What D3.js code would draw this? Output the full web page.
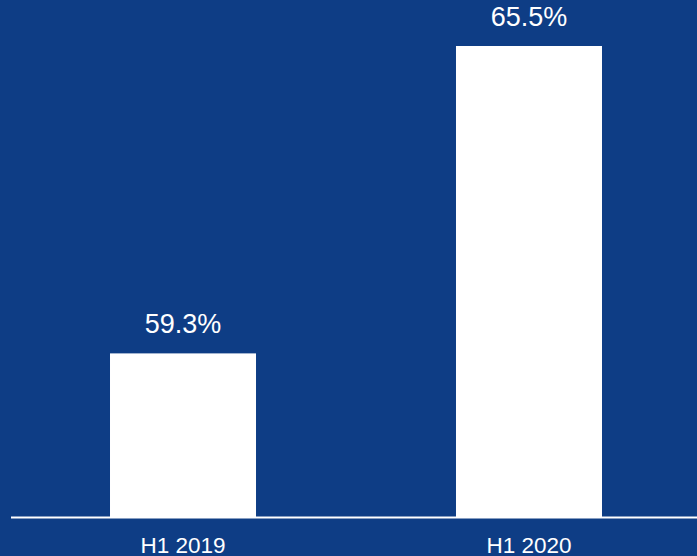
<!DOCTYPE html>
<html>
<head>
<meta charset="utf-8">
<script src="https://cdn.jsdelivr.net/npm/d3@7"></script>
<style>
  html, body { margin: 0; padding: 0; background: #0e3d85; }
  svg { display: block; font-family: "Liberation Sans", Arial, sans-serif; }
</style>
</head>
<body>
<div class="container"></div>
<script>
const w = 697;
const h = 556;

const categories = ['H1 2019', 'H1 2020'];
const values = [59.3, 65.5];
const valueLabels = ['59.3%', '65.5%'];

const baseY = 517;

// x band scale
const xScale = d3.scaleBand()
  .domain(categories)
  .range([15, w])
  .paddingInner(0.578)
  .paddingOuter(0.2746);

// y scale (not zero based)
const yScale = d3.scaleLinear()
  .domain([56, 65.5])
  .range([baseY, 46]);

const svg = d3.select('.container')
  .append('svg')
  .attr('width', w)
  .attr('height', h);

svg.append('rect')
  .attr('width', w)
  .attr('height', h)
  .attr('fill', '#0e3d85');

// bars
svg.selectAll('.bar')
  .data(values)
  .enter()
  .append('rect')
  .attr('class', 'bar')
  .attr('x', (d, i) => xScale(categories[i]))
  .attr('y', (d) => yScale(d))
  .attr('width', xScale.bandwidth())
  .attr('height', (d) => baseY - yScale(d))
  .attr('fill', '#ffffff');

// value labels
svg.selectAll('.val')
  .data(values)
  .enter()
  .append('text')
  .attr('class', 'val')
  .attr('x', (d, i) => xScale(categories[i]) + xScale.bandwidth() / 2)
  .attr('y', (d) => yScale(d) - 20)
  .attr('text-anchor', 'middle')
  .attr('fill', '#ffffff')
  .style('font-size', '27px')
  .text((d, i) => valueLabels[i]);

// x axis
const xAxis = d3.axisBottom(xScale).tickSize(0).tickPadding(20);
const gx = svg.append('g')
  .attr('transform', 'translate(0,' + baseY + ')')
  .call(xAxis);
gx.select('.domain').remove();
gx.selectAll('text')
  .attr('fill', '#ffffff')
  .style('font-size', '22.5px')
  .style('font-family', '"Liberation Sans", Arial, sans-serif');

// baseline
svg.append('line')
  .attr('x1', 11)
  .attr('x2', w)
  .attr('y1', baseY + 0.5)
  .attr('y2', baseY + 0.5)
  .attr('stroke', '#ffffff')
  .attr('stroke-width', 2);
</script>
</body>
</html>
